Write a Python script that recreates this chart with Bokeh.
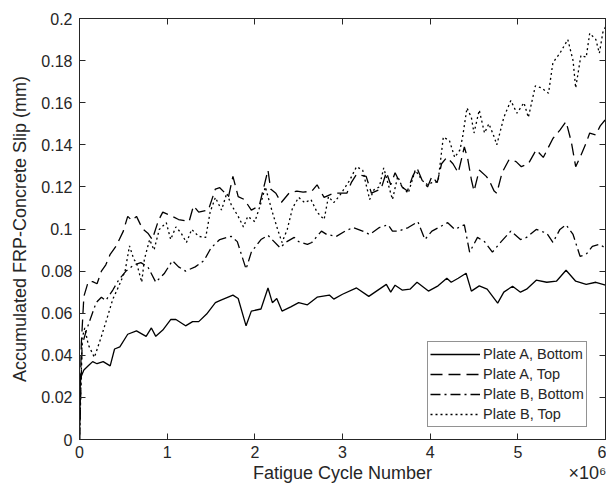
from bokeh.plotting import figure
from bokeh.models import (Range1d, FixedTicker, CustomJSTickFormatter, LinearAxis,
                          Legend, LegendItem, CustomLabelingPolicy)
from bokeh.embed import file_html
from bokeh.resources import INLINE

# ---- data (x in units of 10^6 cycles, y in mm) ----
a_bot_x = [0, 0.01, 0.05, 0.1, 0.15, 0.2, 0.27, 0.35, 0.4, 0.46,
           0.55, 0.65, 0.76, 0.82, 0.87, 0.95, 1.04, 1.1, 1.21, 1.29,
           1.36, 1.45, 1.55, 1.6, 1.75, 1.81, 1.9, 1.96, 2.07, 2.15,
           2.2, 2.25, 2.31, 2.41, 2.5, 2.6, 2.71, 2.85, 2.9, 3.0,
           3.16, 3.3, 3.5, 3.55, 3.6, 3.68, 3.77, 3.85, 3.98, 4.09,
           4.19, 4.24, 4.32, 4.41, 4.47, 4.56, 4.65, 4.77, 4.84, 4.94,
           5.03, 5.1, 5.21, 5.33, 5.44, 5.55, 5.66, 5.78, 5.89, 6.0]
a_bot_y = [0, 0.029, 0.033, 0.035, 0.037, 0.036, 0.037, 0.035, 0.043, 0.044,
           0.050, 0.0516, 0.049, 0.053, 0.049, 0.052, 0.057, 0.057, 0.054, 0.056,
           0.056, 0.0596, 0.065, 0.066, 0.0686, 0.067, 0.054, 0.061, 0.062, 0.072,
           0.065, 0.067, 0.061, 0.063, 0.065, 0.064, 0.0676, 0.0686, 0.0667, 0.069,
           0.072, 0.068, 0.0737, 0.070, 0.0733, 0.071, 0.0714, 0.0747, 0.0705, 0.073,
           0.0766, 0.0747, 0.0766, 0.079, 0.0705, 0.073, 0.0714, 0.0648, 0.070, 0.0728,
           0.070, 0.0714, 0.0757, 0.0747, 0.0752, 0.0804, 0.0752, 0.0737, 0.0747, 0.0733]

a_top_x = [0, 0.02, 0.05, 0.1, 0.15, 0.2, 0.25, 0.3, 0.35, 0.42,
           0.5, 0.55, 0.6, 0.65, 0.72, 0.78, 0.83, 0.9, 0.95, 1.06,
           1.13, 1.25, 1.3, 1.36, 1.47, 1.55, 1.6, 1.7, 1.75, 1.81,
           1.88, 1.96, 2.05, 2.15, 2.18, 2.24, 2.3, 2.39, 2.48, 2.55,
           2.65, 2.71, 2.79, 2.9, 3.05, 3.1, 3.16, 3.27, 3.33, 3.44,
           3.5, 3.55, 3.6, 3.68, 3.74, 3.8, 3.85, 3.91, 3.97, 4.02,
           4.08, 4.13, 4.19, 4.26, 4.32, 4.39, 4.43, 4.47, 4.5, 4.56,
           4.64, 4.67, 4.73, 4.76, 4.82, 4.9, 4.98, 5.04, 5.12, 5.21,
           5.29, 5.4, 5.48, 5.55, 5.61, 5.66, 5.72, 5.78, 5.82, 5.89,
           5.94, 6.0]
a_top_y = [0, 0.045, 0.068, 0.075, 0.075, 0.074, 0.08, 0.083, 0.088, 0.092,
           0.099, 0.106, 0.104, 0.106, 0.1, 0.098, 0.095, 0.104, 0.108, 0.106,
           0.1045, 0.1035, 0.111, 0.108, 0.109, 0.119, 0.1196, 0.1154, 0.125, 0.1154,
           0.114, 0.109, 0.111, 0.128, 0.119, 0.117, 0.1125, 0.117, 0.118, 0.1175,
           0.118, 0.121, 0.115, 0.117, 0.117, 0.122, 0.126, 0.125, 0.117, 0.119,
           0.127, 0.121, 0.1267, 0.12, 0.118, 0.125, 0.129, 0.123, 0.12, 0.125,
           0.122, 0.131, 0.134, 0.131, 0.1267, 0.139, 0.133, 0.1234, 0.118, 0.128,
           0.125, 0.1234, 0.118, 0.117, 0.1267, 0.133, 0.132, 0.1296, 0.131, 0.1376,
           0.134, 0.143, 0.147, 0.151, 0.1414, 0.1296, 0.135, 0.141, 0.1456, 0.1447,
           0.149, 0.152]

b_bot_x = [0, 0.03, 0.08, 0.13, 0.19, 0.25, 0.3, 0.38, 0.45, 0.53,
           0.62, 0.7, 0.78, 0.87, 0.97, 1.06, 1.13, 1.21, 1.32, 1.42,
           1.5, 1.6, 1.73, 1.8, 1.9, 1.96, 2.07, 2.15, 2.29, 2.35,
           2.45, 2.5, 2.6, 2.65, 2.76, 2.82, 2.93, 3.03, 3.12, 3.23,
           3.31, 3.42, 3.52, 3.57, 3.64, 3.75, 3.86, 3.94, 4.02, 4.2,
           4.28, 4.39, 4.45, 4.54, 4.62, 4.71, 4.81, 4.92, 5.03, 5.1,
           5.21, 5.33, 5.4, 5.48, 5.55, 5.63, 5.71, 5.78, 5.85, 5.93,
           6.0]
b_bot_y = [0, 0.045, 0.052, 0.058, 0.065, 0.0676, 0.066, 0.071, 0.076, 0.08,
           0.083, 0.084, 0.082, 0.0747, 0.079, 0.085, 0.082, 0.080, 0.082, 0.085,
           0.091, 0.095, 0.0965, 0.094, 0.081, 0.089, 0.095, 0.097, 0.091, 0.0936,
           0.096, 0.094, 0.0927, 0.0936, 0.099, 0.0974, 0.0965, 0.099, 0.1007, 0.099,
           0.0974, 0.1007, 0.102, 0.099, 0.099, 0.1007, 0.1035, 0.095, 0.099, 0.103,
           0.0998, 0.102, 0.089, 0.096, 0.094, 0.089, 0.094, 0.099, 0.095, 0.096,
           0.0998, 0.098, 0.0936, 0.0998, 0.102, 0.0974, 0.087, 0.088, 0.0917, 0.0927,
           0.091]

b_top_x = [0, 0.03, 0.06, 0.1, 0.17, 0.25, 0.31, 0.38, 0.45, 0.52,
           0.57, 0.62, 0.65, 0.71, 0.74, 0.8, 0.85, 0.91, 0.99, 1.04,
           1.1, 1.16, 1.22, 1.28, 1.36, 1.44, 1.49, 1.55, 1.62, 1.68,
           1.73, 1.81, 1.87, 1.92, 2.0, 2.06, 2.12, 2.15, 2.2, 2.26,
           2.31, 2.37, 2.43, 2.5, 2.57, 2.64, 2.71, 2.79, 2.84, 2.9,
           2.97, 3.08, 3.16, 3.23, 3.31, 3.36, 3.42, 3.47, 3.57, 3.63,
           3.68, 3.75, 3.83, 3.91, 3.97, 4.02, 4.09, 4.15, 4.22, 4.28,
           4.34, 4.37, 4.42, 4.47, 4.5, 4.56, 4.62, 4.67, 4.73, 4.76,
           4.84, 4.92, 4.99, 5.07, 5.12, 5.2, 5.27, 5.35, 5.4, 5.48,
           5.57, 5.63, 5.66, 5.72, 5.78, 5.82, 5.89, 5.93, 5.97, 6.0]
b_top_y = [0, 0.048, 0.053, 0.045, 0.039, 0.049, 0.057, 0.0667, 0.073, 0.08,
           0.092, 0.0856, 0.084, 0.0747, 0.0856, 0.095, 0.090, 0.0998, 0.103, 0.095,
           0.101, 0.098, 0.0936, 0.0998, 0.0965, 0.096, 0.108, 0.115, 0.109, 0.117,
           0.1116, 0.106, 0.101, 0.106, 0.1035, 0.111, 0.12, 0.1154, 0.108, 0.0998,
           0.0936, 0.0998, 0.11, 0.115, 0.1125, 0.114, 0.108, 0.1045, 0.1154, 0.1125,
           0.116, 0.123, 0.1296, 0.128, 0.114, 0.1187, 0.12, 0.129, 0.114, 0.125,
           0.12, 0.117, 0.128, 0.123, 0.121, 0.122, 0.1225, 0.1437, 0.142, 0.134,
           0.1376, 0.1437, 0.1575, 0.153, 0.1456, 0.1565, 0.1456, 0.150, 0.1437, 0.140,
           0.153, 0.161, 0.155, 0.16, 0.153, 0.168, 0.167, 0.1645, 0.179, 0.1835,
           0.19, 0.180, 0.167, 0.1825, 0.1816, 0.193, 0.19, 0.1835, 0.1934, 0.196]

series_names = ["Plate A, Bottom", "Plate A, Top", "Plate B, Bottom", "Plate B, Top"]
x_ticks = [0, 1, 2, 3, 4, 5, 6]
y_ticks = [0, 0.02, 0.04, 0.06, 0.08, 0.1, 0.12, 0.14, 0.16, 0.18, 0.2]
x_title = "Fatigue Cycle Number"
y_title = "Accumulated FRP-Concrete Slip (mm)"
x_multiplier = "\u00d710\u2076"

FONT = "Liberation Sans"
INK = "#262626"

p = figure(width=606, height=486, output_backend="svg", toolbar_location=None,
           x_range=Range1d(0, 6), y_range=Range1d(0, 0.2),
           min_border_left=79, min_border_right=1, min_border_top=18, min_border_bottom=47)
p.background_fill_color = "white"
p.border_fill_color = "white"
p.outline_line_color = INK
p.outline_line_width = 1
p.xgrid.visible = False
p.ygrid.visible = False

no_labels = CustomLabelingPolicy(
    code="for (let i = 0; i < indices.size; i++) { indices.unset(i) } return indices")

def style_axis(ax, ticks, show_labels):
    ax.ticker = FixedTicker(ticks=ticks)
    ax.major_tick_in = 6
    ax.major_tick_out = 0
    ax.minor_tick_line_color = None
    ax.major_tick_line_color = INK
    ax.axis_line_color = INK
    ax.major_label_text_font = FONT
    ax.major_label_text_color = INK
    if show_labels:
        ax.major_label_text_font_size = "16px"
    else:
        ax.major_label_text_font_size = "0px"
        ax.major_label_policy = no_labels
        ax.major_label_standoff = 0

xa = p.xaxis[0]
ya = p.yaxis[0]
style_axis(xa, x_ticks, True)
style_axis(ya, y_ticks, True)
ya.formatter = CustomJSTickFormatter(code="return (Math.round(tick*100)/100).toString();")
xa.major_label_standoff = 6
ya.major_label_standoff = 7
ya.axis_label = y_title
ya.axis_label_text_font = FONT
ya.axis_label_text_font_size = "18px"
ya.axis_label_text_font_style = "normal"
ya.axis_label_text_color = INK
ya.axis_label_standoff = 8

# outer "axis" below carrying the x title and the x10^6 multiplier on one line
title_ax = LinearAxis()
title_ax.ticker = FixedTicker(ticks=[3, 5.8])
title_ax.formatter = CustomJSTickFormatter(
    args=dict(t=x_title, m=x_multiplier),
    code="return tick < 4 ? t : m;")
title_ax.major_tick_in = 0
title_ax.major_tick_out = 0
title_ax.major_tick_line_color = None
title_ax.minor_tick_line_color = None
title_ax.axis_line_color = None
title_ax.major_label_text_font = FONT
title_ax.major_label_text_font_size = "18px"
title_ax.major_label_text_color = INK
title_ax.major_label_standoff = 2
p.add_layout(title_ax, "below")

top_ax = LinearAxis()
style_axis(top_ax, x_ticks, False)
right_ax = LinearAxis()
style_axis(right_ax, y_ticks, False)
p.add_layout(top_ax, "above")
p.add_layout(right_ax, "right")

r1 = p.line(a_bot_x, a_bot_y, line_color="black", line_width=1.3)
r2 = p.line(a_top_x, a_top_y, line_color="black", line_width=1.3, line_dash="12 6")
r3 = p.line(b_bot_x, b_bot_y, line_color="black", line_width=1.3, line_dash="10 4 2 4")
r4 = p.line(b_top_x, b_top_y, line_color="black", line_width=1.3, line_dash="2 3")

legend = Legend(items=[LegendItem(label=n, renderers=[r]) for n, r in
                       zip(series_names, [r1, r2, r3, r4])],
                location=(348, 12))
legend.label_text_font = FONT
legend.label_text_font_size = "14.5px"
legend.label_text_color = INK
legend.glyph_width = 50
legend.glyph_height = 20
legend.label_height = 20
legend.label_standoff = 3
legend.spacing = 0
legend.padding = 2
legend.margin = 0
legend.border_line_color = INK
legend.border_line_width = 1
legend.background_fill_color = "white"
legend.background_fill_alpha = 1
p.add_layout(legend)

open("out.html", "w").write(file_html(p, INLINE))
